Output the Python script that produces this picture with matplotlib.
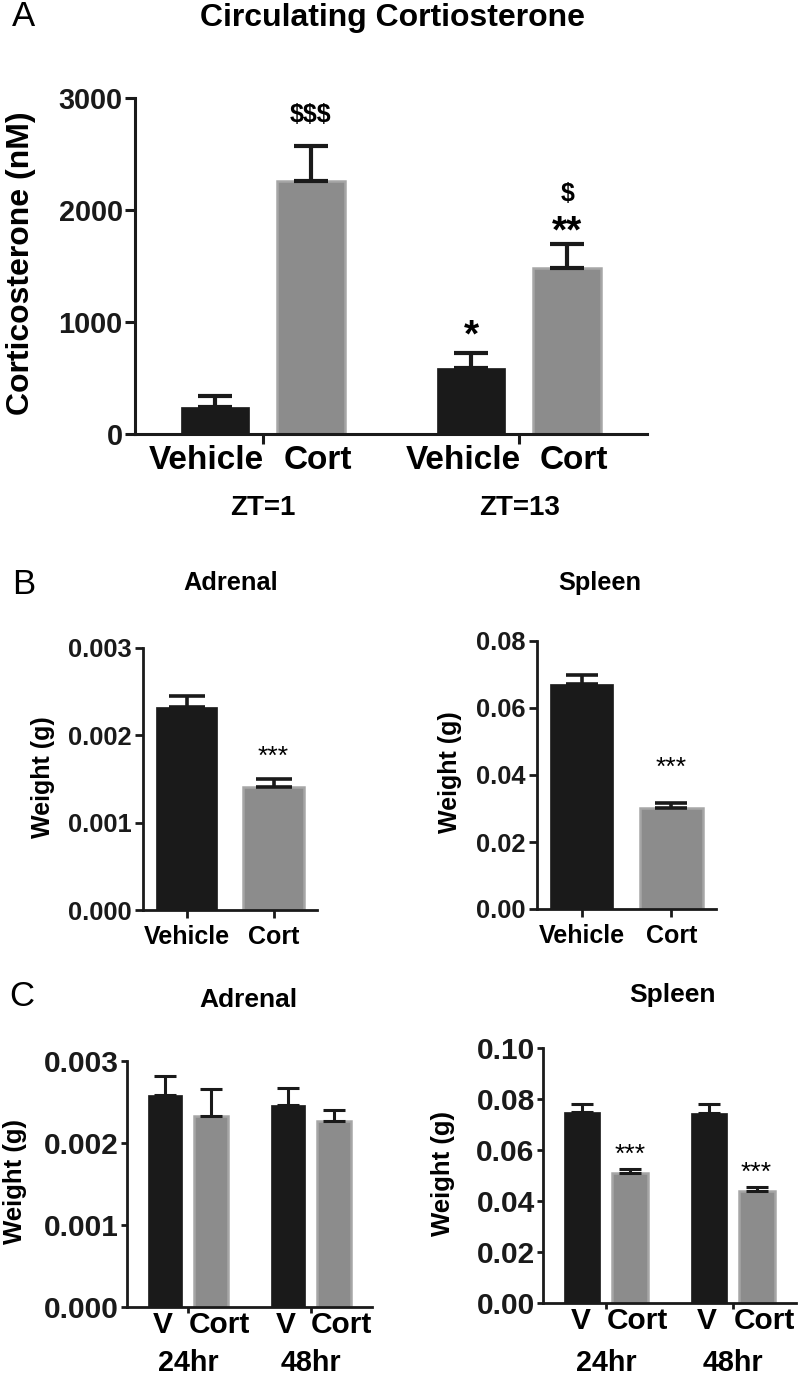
import numpy as np
import matplotlib
matplotlib.use("Agg")
import matplotlib.pyplot as plt

plt.rcParams['font.family'] = ['Liberation Sans', 'DejaVu Sans']
plt.rcParams['font.weight'] = 'bold'

# ---- data ----
# A: circulating corticosterone (nM), groups ZT=1 and ZT=13
a_groups = ["ZT=1", "ZT=13"]
a_veh = [240, 589]
a_veh_err = [100, 134]
a_cort = [2259, 1482]
a_cort_err = [312, 214]
a_veh_stars = ["", "*"]
a_cort_stars = ["", "**"]
a_cort_dollars = ["$$$", "$"]

# B: organ weights (g)
b_labels = ["Vehicle", "Cort"]
b_adrenal = [0.00232, 0.00141]
b_adrenal_err = [0.00013, 0.00009]
b_spleen = [0.0672, 0.0301]
b_spleen_err = [0.0027, 0.0015]

# C: organ weights at 24hr / 48hr
c_groups = ["24hr", "48hr"]
c_adrenal_veh = [0.00259, 0.00246]
c_adrenal_veh_err = [0.00023, 0.00021]
c_adrenal_cort = [0.00233, 0.00227]
c_adrenal_cort_err = [0.00033, 0.00013]
c_spleen_veh = [0.0749, 0.0745]
c_spleen_veh_err = [0.0031, 0.0035]
c_spleen_cort = [0.0510, 0.0439]
c_spleen_cort_err = [0.0015, 0.0016]
c_spleen_marks = ["***", "***"]

BLACK = '#1a1a1a'
GREY = '#8c8c8c'
GREY_EDGE = '#a6a6a6'

W, H = 800, 1378
fig = plt.figure(figsize=(W / 100, H / 100), dpi=100)


def box(l, t, r, b):
    return [l / W, 1 - b / H, (r - l) / W, (b - t) / H]


def ftext(x, y, s, **kw):
    fig.text(x / W, 1 - y / H, s, ha='center', va='center', **kw)


def style(ax, lw, ticklen, fs):
    for s in ['top', 'right']:
        ax.spines[s].set_visible(False)
    for s in ['left', 'bottom']:
        ax.spines[s].set_linewidth(lw)
        ax.spines[s].set_color(BLACK)
    ax.tick_params(axis='y', length=ticklen, width=lw, labelsize=fs, pad=2,
                   color=BLACK, labelcolor=BLACK)
    ax.tick_params(axis='x', which='major', length=ticklen, width=lw,
                   color=BLACK)


def bars(ax, x, y, err, color, width, capsize, lw):
    if color == GREY:
        ax.bar(x, y, width, color=color, edgecolor=GREY_EDGE, linewidth=1.8,
               zorder=2)
    else:
        ax.bar(x, y, width, color=color, edgecolor=color, linewidth=0.5,
               zorder=2)
    ax.errorbar(x, y, yerr=[np.zeros(len(y)), err], fmt='none', ecolor=BLACK,
                elinewidth=lw, capsize=capsize, capthick=lw, zorder=3)


def grouped(ax, veh, veh_err, cort, cort_err, width, capsize, lw):
    centers = np.array([1.33, 4.0])
    xv = centers - 0.5
    xc = centers + 0.5
    bars(ax, xv, veh, veh_err, BLACK, width, capsize, lw)
    bars(ax, xc, cort, cort_err, GREY, width, capsize, lw)
    ax.set_xlim(0, 5.33)
    ax.set_xticks(centers)
    ax.set_xticklabels([])
    return centers, xv, xc


def under(ax, s, x, dx, dy, fs, va='top'):
    ax.annotate(s, xy=(x, 0), xycoords=('data', 'axes fraction'),
                xytext=(dx, dy), textcoords='offset points',
                ha='center', va=va, fontsize=fs)


def mark(ax, s, x, y, off, fs, weight='bold', va='baseline'):
    ax.annotate(s, xy=(x, y), xytext=(0, off), textcoords='offset points',
                ha='center', va=va, fontsize=fs, fontweight=weight)


# ---------------- Panel A ----------------
axA = fig.add_axes(box(135, 98, 647, 434))
style(axA, 2.2, 7, 20.8)
cA, xvA, xcA = grouped(axA, a_veh, a_veh_err, a_cort, a_cort_err,
                       0.71, 12.5, 3)
axA.set_ylim(0, 3000)
axA.set_yticks([0, 1000, 2000, 3000])
for i in range(2):
    under(axA, "Vehicle", xvA[i], -5.8, -8, 24)
    under(axA, "Cort", xcA[i], 5, -8, 24)
    under(axA, a_groups[i], cA[i], 0, -53, 20, 'center')
    top_v = a_veh[i] + a_veh_err[i]
    top_c = a_cort[i] + a_cort_err[i]
    if a_veh_stars[i]:
        mark(axA, a_veh_stars[i], xvA[i], top_v, 5, 28)
    if a_cort_stars[i]:
        mark(axA, a_cort_stars[i], xcA[i], top_c, 1, 28)
        mark(axA, a_cort_dollars[i], xcA[i], top_c, 31, 18)
    else:
        mark(axA, a_cort_dollars[i], xcA[i], top_c, 17.5, 18)
ftext(21, 263, "Corticosterone (nM)", rotation=90, fontsize=23)
ftext(392, 18, "Circulating Cortiosterone", fontsize=23)
ftext(24, 17, "A", fontsize=25, fontweight='normal')


# ---------------- Panel B ----------------
def panel_b(rect, vals, errs, ticks, labels, title, title_xy, ylab_xy,
            mark_off, width, capsize):
    ax = fig.add_axes(box(*rect))
    style(ax, 2.0, 6, 18.4)
    x = np.array([0.5, 1.5])
    bars(ax, x[:1], vals[:1], errs[:1], BLACK, width, capsize, 2.6)
    bars(ax, x[1:], vals[1:], errs[1:], GREY, width, capsize, 2.6)
    ax.set_xlim(0, 2)
    ax.set_ylim(ticks[0], ticks[-1])
    ax.set_yticks(ticks)
    ax.set_yticklabels(labels)
    ax.set_xticks(x)
    ax.set_xticklabels(b_labels)
    ax.tick_params(axis='x', labelsize=18, pad=5)
    mark(ax, "***", x[1], vals[1] + errs[1], mark_off, 19, 'normal', 'bottom')
    ftext(title_xy[0], title_xy[1], title, fontsize=18.3)
    ftext(ylab_xy[0], ylab_xy[1], "Weight (g)", rotation=90, fontsize=18)
    return ax


panel_b((143, 648, 317, 910), b_adrenal, b_adrenal_err,
        [0, 0.001, 0.002, 0.003], ["0.000", "0.001", "0.002", "0.003"],
        "Adrenal", (231, 583), (43, 777), 7, 0.69, 13)
panel_b((537, 641, 716, 909), b_spleen, b_spleen_err,
        [0, 0.02, 0.04, 0.06, 0.08], ["0.00", "0.02", "0.04", "0.06", "0.08"],
        "Spleen", (600, 583), (450, 772), 17, 0.70, 11.5)
ftext(24, 585, "B", fontsize=25, fontweight='normal')


# ---------------- Panel C ----------------
def panel_c(rect, veh, veh_err, cort, cort_err, ticks, labels, title,
            title_xy, ylab_xy, marks, width, grp_off):
    ax = fig.add_axes(box(*rect))
    style(ax, 2.0, 4, 21.5)
    centers, xv, xc = grouped(ax, veh, veh_err, cort, cort_err, width, 8, 2.2)
    ax.set_ylim(ticks[0], ticks[-1])
    ax.set_yticks(ticks)
    ax.set_yticklabels(labels)
    for i in range(2):
        under(ax, "V", xv[i], -1.5, -3, 21.5)
        under(ax, "Cort", xc[i], 5.8, -3, 21.5)
        under(ax, c_groups[i], centers[i], 0, grp_off, 20.7, 'center')
        if marks:
            mark(ax, marks[i], xc[i], cort[i] + cort_err[i], 1.5, 19,
                 'normal', 'bottom')
    ftext(title_xy[0], title_xy[1], title, fontsize=19)
    ftext(ylab_xy[0], ylab_xy[1], "Weight (g)", rotation=90, fontsize=18.5)
    return ax


panel_c((127, 1061, 372, 1307), c_adrenal_veh, c_adrenal_veh_err,
        c_adrenal_cort, c_adrenal_cort_err,
        [0, 0.001, 0.002, 0.003], ["0.000", "0.001", "0.002", "0.003"],
        "Adrenal", (248, 1000), (15, 1181), None, 0.74, -40)
panel_c((543, 1048, 796, 1303), c_spleen_veh, c_spleen_veh_err,
        c_spleen_cort, c_spleen_cort_err,
        [0, 0.02, 0.04, 0.06, 0.08, 0.10],
        ["0.00", "0.02", "0.04", "0.06", "0.08", "0.10"],
        "Spleen", (672, 995), (443, 1173), c_spleen_marks, 0.76, -43)
ftext(22, 996, "C", fontsize=25, fontweight='normal')

fig.savefig("out.png", dpi=100)
